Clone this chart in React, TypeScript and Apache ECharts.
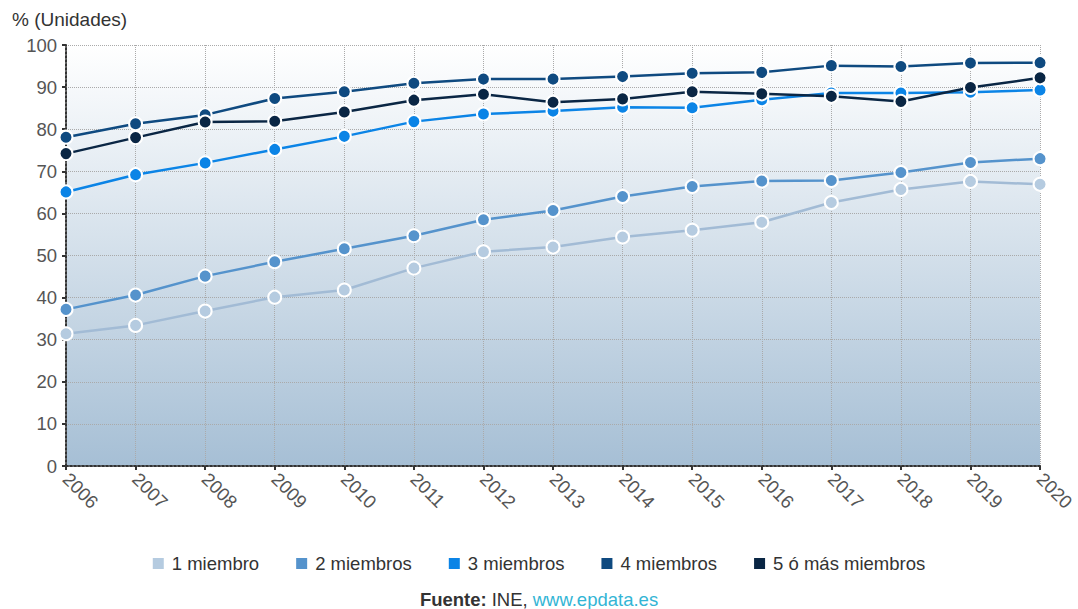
import React, { useEffect, useRef } from "react";
import * as echarts from "echarts";

// Hogares con acceso a internet según número de miembros (%)
const years = ["2006", "2007", "2008", "2009", "2010", "2011", "2012", "2013", "2014", "2015", "2016", "2017", "2018", "2019", "2020"];

const unMiembro = [31.4, 33.4, 36.8, 40.1, 41.8, 47.0, 50.9, 52.0, 54.4, 56.0, 57.9, 62.6, 65.7, 67.6, 66.9];
const dosMiembros = [37.2, 40.6, 45.1, 48.5, 51.6, 54.7, 58.5, 60.7, 64.0, 66.4, 67.7, 67.8, 69.7, 72.1, 73.0];
const tresMiembros = [65.1, 69.2, 72.0, 75.2, 78.3, 81.8, 83.6, 84.3, 85.2, 85.1, 87.0, 88.6, 88.6, 88.8, 89.3];
const cuatroMiembros = [78.1, 81.3, 83.4, 87.3, 88.9, 90.9, 91.9, 91.9, 92.5, 93.3, 93.5, 95.1, 94.9, 95.7, 95.8];
const cincoOMas = [74.2, 78.0, 81.7, 81.9, 84.1, 86.9, 88.3, 86.4, 87.2, 88.9, 88.4, 87.8, 86.6, 89.9, 92.2];

const seriesNames = ["1 miembro", "2 miembros", "3 miembros", "4 miembros", "5 ó más miembros"];
const seriesColors = ["#b5cbe0", "#5593cc", "#0b84e6", "#0f4a80", "#0a2644"];
const lineColors = ["#a2bbd5", "#5593cc", "#0b84e6", "#0f4a80", "#0a2644"];
const seriesData = [unMiembro, dosMiembros, tresMiembros, cuatroMiembros, cincoOMas];

const yTicks = { min: 0, max: 100, interval: 10 };

const FONT = "'Liberation Sans', Arial, Helvetica, sans-serif";
const FS = 18.5;

export default function App() {
  const ref = useRef<HTMLDivElement>(null);

  useEffect(() => {
    document.body.style.margin = "0";
    if (!ref.current) return;
    const chart = echarts.init(ref.current, undefined, { renderer: "svg" });

    chart.setOption({
      animation: false,
      textStyle: { fontFamily: FONT },
      grid: {
        left: 66,
        right: 36,
        top: 45,
        bottom: 143,
        show: true,
        borderWidth: 0,
        backgroundColor: new echarts.graphic.LinearGradient(0, 0, 0, 1, [
          { offset: 0, color: "#ffffff" },
          { offset: 1, color: "#a6bfd5" },
        ]),
      },
      graphic: [
        {
          type: "text",
          left: 12,
          top: 10,
          style: { text: "% (Unidades)", fontSize: 19, fill: "#333", fontFamily: FONT },
        },
      ],
      title: {
        text: "{b|Fuente:} {n|INE,} {l|www.epdata.es}",
        left: "center",
        top: 590,
        padding: 0,
        textStyle: {
          rich: {
            b: { fontSize: FS, fontWeight: "bold", color: "#333", fontFamily: FONT },
            n: { fontSize: FS, fontWeight: "normal", color: "#333", fontFamily: FONT },
            l: { fontSize: FS, fontWeight: "normal", color: "#33b5d5", fontFamily: FONT },
          },
        },
      },
      legend: {
        top: 549,
        left: "center",
        itemWidth: 11,
        itemHeight: 11,
        itemGap: 37,
        icon: "rect",
        data: seriesNames.map((n, i) => ({ name: n, itemStyle: { color: seriesColors[i], borderWidth: 0 } })),
        textStyle: { fontSize: FS, color: "#333", fontFamily: FONT, padding: [0, 0, 0, 3] },
      },
      xAxis: {
        type: "category",
        data: years,
        boundaryGap: false,
        axisLine: { show: true, lineStyle: { color: "#333", width: 2, type: "dotted" } },
        axisTick: { show: true, length: 4, lineStyle: { color: "#333", width: 2 } },
        axisLabel: { rotate: -45, fontSize: FS, color: "#555", margin: 10, fontFamily: FONT },
        splitLine: { show: true, lineStyle: { color: "#aaa", type: "dotted", width: 1 } },
      },
      yAxis: {
        type: "value",
        min: yTicks.min,
        max: yTicks.max,
        interval: yTicks.interval,
        axisLine: { show: true, lineStyle: { color: "#333", width: 2, type: "dotted" } },
        axisTick: { show: true, length: 4, lineStyle: { color: "#333", width: 2 } },
        axisLabel: { fontSize: FS, color: "#555", margin: 9, fontFamily: FONT },
        splitLine: { show: true, lineStyle: { color: "#aaa", type: "dotted", width: 1 } },
      },
      series: seriesData.map((d, i) => ({
        name: seriesNames[i],
        type: "line",
        data: d,
        symbol: "circle",
        symbolSize: 13,
        showAllSymbol: true,
        lineStyle: { color: lineColors[i], width: 2.5 },
        itemStyle: { color: seriesColors[i], borderColor: "#fff", borderWidth: 2 },
        emphasis: { disabled: true },
      })),
    });

    return () => chart.dispose();
  }, []);

  return <div ref={ref} style={{ width: 1078, height: 609 }} />;
}
